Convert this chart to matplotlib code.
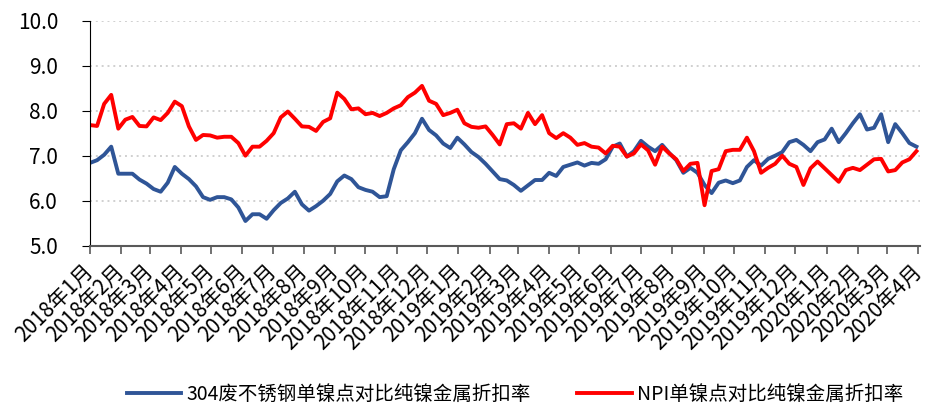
import matplotlib
matplotlib.use("Agg")
import matplotlib.pyplot as plt
import pandas as pd

plt.rcParams['font.family'] = ['Noto Sans CJK SC', 'DejaVu Sans']

# weekly readings, first week of Jan 2018 to end of Mar 2020
ss304 = [6.84, 6.90, 7.02, 7.20, 6.60, 6.60, 6.60, 6.47, 6.38, 6.26,
         6.20, 6.40, 6.75, 6.60, 6.48, 6.32, 6.08, 6.02, 6.08, 6.08,
         6.03, 5.85, 5.55, 5.70, 5.70, 5.60, 5.79, 5.95, 6.05, 6.20,
         5.92, 5.78, 5.88, 6.00, 6.15, 6.43, 6.56, 6.48, 6.30, 6.24,
         6.20, 6.08, 6.10, 6.70, 7.12, 7.30, 7.50, 7.82, 7.57, 7.45,
         7.27, 7.17, 7.40, 7.25, 7.08, 6.97, 6.82, 6.65, 6.48, 6.45,
         6.35, 6.22, 6.34, 6.46, 6.46, 6.62, 6.55, 6.75, 6.80, 6.85,
         6.78, 6.84, 6.82, 6.92, 7.20, 7.27, 6.98, 7.10, 7.33, 7.20,
         7.10, 7.24, 7.06, 6.90, 6.62, 6.73, 6.62, 6.35, 6.17, 6.40,
         6.45, 6.39, 6.45, 6.75, 6.90, 6.78, 6.93, 7.00, 7.08, 7.30,
         7.35, 7.24, 7.10, 7.30, 7.36, 7.60, 7.30, 7.50, 7.72, 7.92,
         7.58, 7.62, 7.92, 7.30, 7.70, 7.50, 7.28, 7.20]

npi = [7.68, 7.66, 8.15, 8.35, 7.60, 7.80, 7.86, 7.66, 7.65, 7.85,
       7.79, 7.95, 8.20, 8.10, 7.65, 7.35, 7.46, 7.45, 7.40, 7.42,
       7.42, 7.28, 7.00, 7.20, 7.20, 7.33, 7.50, 7.85, 7.98, 7.82,
       7.65, 7.64, 7.55, 7.75, 7.83, 8.40, 8.26, 8.03, 8.05, 7.92,
       7.95, 7.88, 7.95, 8.05, 8.12, 8.30, 8.40, 8.55, 8.22, 8.15,
       7.90, 7.95, 8.02, 7.72, 7.64, 7.62, 7.65, 7.46, 7.25, 7.70,
       7.72, 7.60, 7.95, 7.70, 7.90, 7.50, 7.39, 7.50, 7.40, 7.24,
       7.28, 7.20, 7.18, 7.05, 7.22, 7.20, 6.98, 7.05, 7.25, 7.12,
       6.80, 7.20, 7.05, 6.92, 6.66, 6.82, 6.84, 5.90, 6.66, 6.70,
       7.10, 7.13, 7.13, 7.40, 7.10, 6.62, 6.73, 6.82, 7.00, 6.82,
       6.75, 6.35, 6.72, 6.87, 6.72, 6.57, 6.42, 6.68, 6.73, 6.68,
       6.80, 6.92, 6.93, 6.65, 6.68, 6.85, 6.92, 7.10]

dates = pd.date_range("2018-01-01", periods=len(ss304), freq="7D")
months = pd.date_range("2018-01-01", "2020-04-01", freq="MS")
month_labels = [f"{d.year}年{d.month}月" for d in months]
y_ticks = [5.0, 6.0, 7.0, 8.0, 9.0, 10.0]

fig = plt.figure(figsize=(9.31, 4.11), dpi=100)
ax = fig.add_axes([0.0967, 0.402, 0.892, 0.548])

for y in y_ticks[1:]:
    ax.axhline(y, color="#d0d0d0", lw=1.4, ls=(0, (1, 2)), zorder=0)

ax.plot(dates, ss304, color="#2f5597", lw=2.8, label="304废不锈钢单镍点对比纯镍金属折扣率")
ax.plot(dates, npi, color="#ff0000", lw=2.8, label="NPI单镍点对比纯镍金属折扣率")

ax.set_ylim(5, 10)
ax.set_xlim(months[0], pd.Timestamp("2020-04-03"))
ax.set_yticks(y_ticks)
ax.set_yticklabels([f"{v:.1f}" for v in y_ticks], fontsize=15)
ax.set_xticks(months)
ax.set_xticklabels(month_labels, fontsize=15, rotation=45, ha="right",
                   rotation_mode="anchor", va="center")

for s in ["top", "right"]:
    ax.spines[s].set_visible(False)
ax.spines["left"].set_color("#000000")
ax.spines["bottom"].set_color("#595959")
ax.spines["bottom"].set_linewidth(1.5)
ax.tick_params(axis="y", length=6, pad=17, color="#000000")
ax.tick_params(axis="x", length=6, pad=10, color="#595959", width=1.2)

fig.legend(loc="center", bbox_to_anchor=(0.553, 0.04), ncol=2, frameon=False,
           fontsize=14, handlelength=2.8, handletextpad=0.25, columnspacing=2.4,
           borderpad=0.2)

fig.savefig("out.png", dpi=100)
